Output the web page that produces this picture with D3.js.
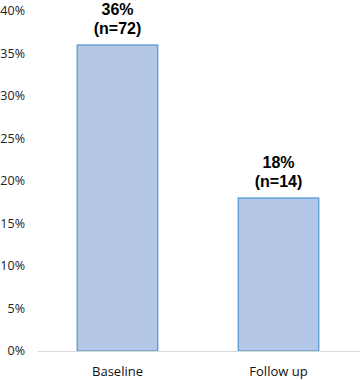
<!DOCTYPE html>
<html>
<head>
<meta charset="utf-8">
<script src="https://cdn.jsdelivr.net/npm/d3@7"></script>
<style>
  body { margin: 0; background: #fff; }
  svg { display: block; }
</style>
</head>
<body>
<svg></svg>
<script>
const categories = ["Baseline", "Follow up"];
const values = [36, 18];
const counts = [72, 14];
const yTicks = [0, 5, 10, 15, 20, 25, 30, 35, 40];

const width = 360, height = 380;
const svg = d3.select("svg").attr("width", width).attr("height", height);

const x = d3.scaleBand()
    .domain(categories)
    .range([37, 359])
    .paddingInner(0.5)
    .paddingOuter(0.25);

const y = d3.scaleLinear()
    .domain([0, 40])
    .range([351, 11]);

// y tick labels
svg.append("g")
    .selectAll("text")
    .data(yTicks).enter().append("text")
    .attr("x", 25)
    .attr("y", d => y(d))
    .attr("dy", "0.35em")
    .attr("text-anchor", "end")
    .attr("font-family", "'Open Sans', sans-serif")
    .attr("font-size", 12.5)
    .attr("fill", "#222")
    .text(d => d + "%");

// bars
svg.append("g")
    .selectAll("rect")
    .data(values).enter().append("rect")
    .attr("x", (d, i) => x(categories[i]))
    .attr("y", d => y(d))
    .attr("width", x.bandwidth())
    .attr("height", d => y(0) - y(d))
    .attr("fill", "#b4c7e7")
    .attr("stroke", "#5b9bd5")
    .attr("stroke-width", 1.3);

// zero line
svg.append("line")
    .attr("x1", 38).attr("x2", 360)
    .attr("y1", y(0) + 0.5).attr("y2", y(0) + 0.5)
    .attr("stroke", "#d9d9d9")
    .attr("stroke-width", 1);

// value labels
const lab = svg.append("g")
    .selectAll("g")
    .data(values).enter().append("g")
    .attr("font-family", "'Liberation Sans', Arial, sans-serif")
    .attr("font-weight", "bold")
    .attr("font-size", 16)
    .attr("fill", "#000")
    .attr("text-anchor", "middle");

lab.append("text")
    .attr("x", (d, i) => x(categories[i]) + x.bandwidth() / 2)
    .attr("y", d => y(d) - 30)
    .text(d => d + "%");

lab.append("text")
    .attr("x", (d, i) => x(categories[i]) + x.bandwidth() / 2)
    .attr("y", d => y(d) - 11)
    .text((d, i) => "(n=" + counts[i] + ")");

// category labels
svg.append("g")
    .selectAll("text")
    .data(categories).enter().append("text")
    .attr("x", d => x(d) + x.bandwidth() / 2)
    .attr("y", 376)
    .attr("text-anchor", "middle")
    .attr("font-family", "'Open Sans', sans-serif")
    .attr("font-size", 13)
    .attr("fill", "#111")
    .text(d => d);
</script>
</body>
</html>
